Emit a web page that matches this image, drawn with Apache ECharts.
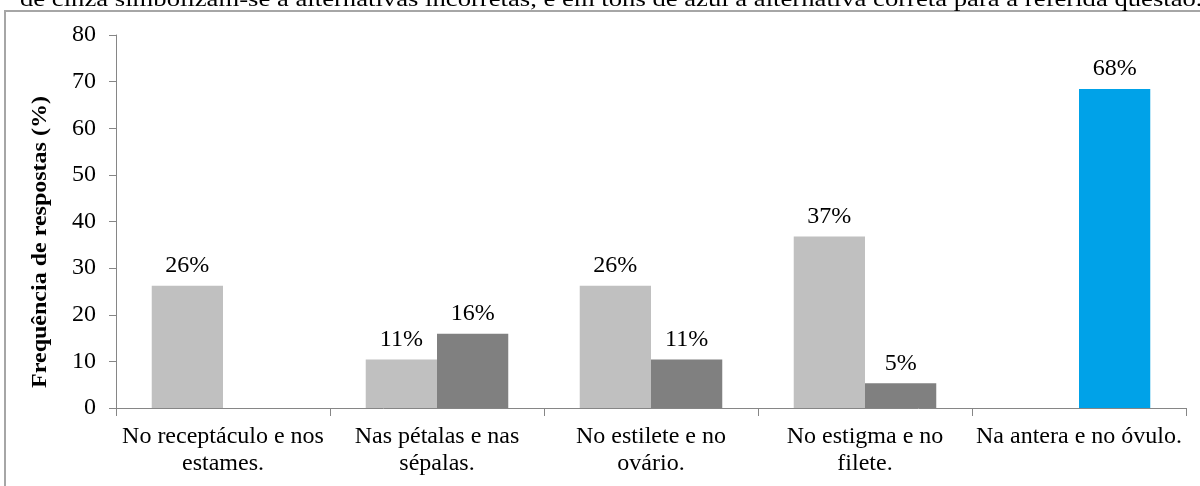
<!DOCTYPE html>
<html>
<head>
<meta charset="utf-8">
<script src="https://cdn.jsdelivr.net/npm/echarts@6/dist/echarts.min.js"></script>
<style>html,body{margin:0;padding:0;background:#fff;}#c{width:1200px;height:486px;}</style>
</head>
<body>
<div id="c"></div>
<script>
const categories = ['No receptáculo e nos\nestames.', 'Nas pétalas e nas\nsépalas.', 'No estilete e no\novário.', 'No estigma e no\nfilete.', 'Na antera e no óvulo.'];
const lightValues = [26.2, 10.4, 26.2, 36.8, null];
const darkValues = [null, 15.9, 10.4, 5.3, 68.4];
const lightLabels = ['26%', '11%', '26%', '37%', ''];
const darkLabels = ['', '16%', '11%', '5%', '68%'];
const correctIndex = 4;
const yTicks = [0, 10, 20, 30, 40, 50, 60, 70, 80];
const yAxisTitle = 'Frequência de respostas (%)';
const captionText = 'de cinza simbolizam-se a alternativas incorretas, e em tons de azul a alternativa correta para a referida questão.';

const FONT = '"Liberation Serif", "DejaVu Serif", serif';
const chart = echarts.init(document.getElementById('c'));
chart.setOption({
  animation: false,
  backgroundColor: '#fff',
  grid: { left: 116, right: 14, top: 35, bottom: 78, containLabel: false },
  graphic: [
    { type: 'rect', shape: { x: 5, y: 11, width: 1210, height: 500 }, style: { fill: 'none', stroke: '#a6a6a6', lineWidth: 2 }, z: 0 },
    { type: 'text', x: 20, y: 11, scaleX: 1.27, style: { text: captionText, font: '21px ' + FONT, fill: '#000', verticalAlign: 'bottom' } },
    { type: 'text', x: 41, y: 242, rotation: Math.PI / 2, scaleX: 1.2, style: { text: yAxisTitle, font: 'bold 20px ' + FONT, fill: '#000', align: 'center', verticalAlign: 'middle' } }
  ],
  xAxis: {
    type: 'category',
    data: categories,
    boundaryGap: true,
    axisLine: { lineStyle: { color: '#868686', width: 1 } },
    axisTick: { show: true, length: 8, alignWithLabel: false, lineStyle: { color: '#868686' } },
    axisLabel: { interval: 0, color: '#000', fontFamily: FONT, fontSize: 24, lineHeight: 27, margin: 15 }
  },
  yAxis: {
    type: 'value',
    min: yTicks[0],
    max: yTicks[yTicks.length - 1],
    interval: 10,
    axisLine: { show: true, lineStyle: { color: '#868686', width: 1 } },
    axisTick: { show: true, length: 7, lineStyle: { color: '#868686' } },
    splitLine: { show: false },
    axisLabel: { color: '#000', fontFamily: FONT, fontSize: 24, margin: 20 }
  },
  series: [
    {
      type: 'bar',
      data: lightValues,
      barGap: '0%',
      barCategoryGap: '33.4%',
      itemStyle: { color: '#c0c0c0' },
      label: { show: true, position: 'top', distance: 8, color: '#000', fontFamily: FONT, fontSize: 24,
        formatter: p => lightLabels[p.dataIndex] }
    },
    {
      type: 'bar',
      data: darkValues,
      barGap: '0%',
      barCategoryGap: '33.4%',
      itemStyle: { color: p => p.dataIndex === correctIndex ? '#00a2e8' : '#808080' },
      label: { show: true, position: 'top', distance: 8, color: '#000', fontFamily: FONT, fontSize: 24,
        formatter: p => darkLabels[p.dataIndex] }
    }
  ]
});
</script>
</body>
</html>
